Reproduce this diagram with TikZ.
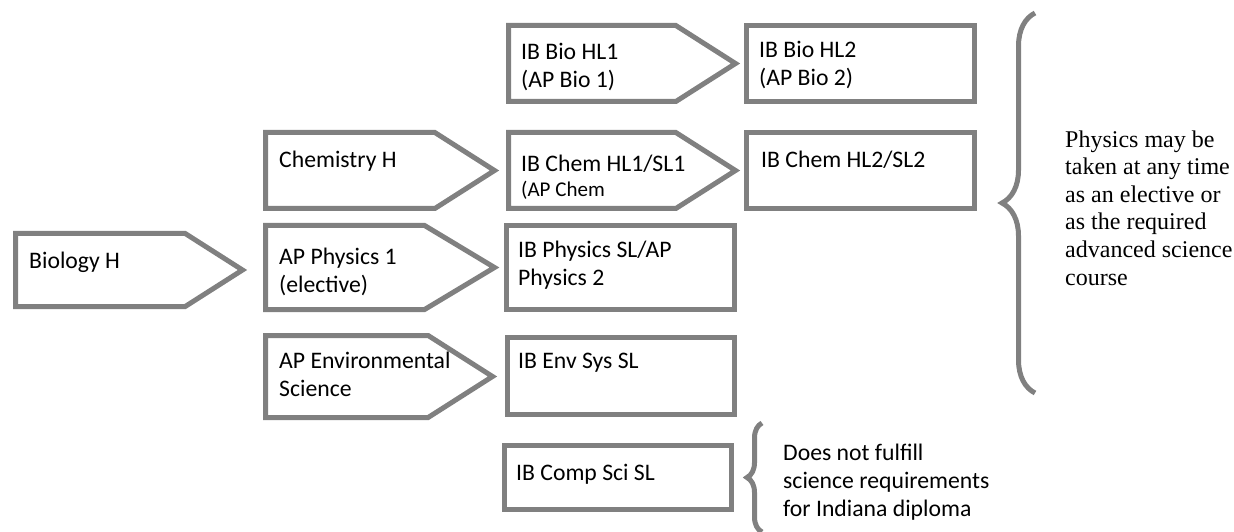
\documentclass[tikz,border=0pt]{standalone}
\usepackage{fontspec}
\setmainfont{Carlito}
\newfontfamily\notefont{Liberation Serif}
\usetikzlibrary{shapes,decorations.pathreplacing}

\tikzset{
  course/.style={signal,signal to=east,signal pointer angle=65,draw=gray,line width=5pt,anchor=west,inner sep=0pt},
  ibbox/.style={rectangle,draw=gray,line width=5pt,anchor=north west,inner sep=0pt},
  txt/.style={anchor=base west,align=left,inner sep=0pt,font=\fontsize{23.7}{28}\selectfont},
  note/.style={anchor=base west,align=left,inner sep=0pt,font=\notefont\fontsize{24}{27.6}\selectfont},
  curly/.style={draw=gray,line width=5pt,decorate,decoration={brace,amplitude=33pt}}
}

\begin{document}
\begin{tikzpicture}[x=1pt,y=1pt]
  \useasboundingbox (0,0) rectangle (1234,531);
  % first year
  \node[course,minimum width=227pt,minimum height=73pt] (bio) at (13,261) {};
  % second year
  \node[course,minimum width=229pt,minimum height=76pt] (chemh) at (263,360.5) {};
  \node[course,minimum width=229pt,minimum height=84pt,signal pointer angle=62] (physone) at (263,263.5) {};
  \node[course,minimum width=227pt,minimum height=82pt] (envsci) at (263,154.5) {};
  % third year
  \node[course,minimum width=227pt,minimum height=76pt] (biohlone) at (506,467.5) {};
  \node[course,minimum width=227pt,minimum height=76pt] (chemhlone) at (506,360.5) {};
  \node[ibbox,minimum width=228pt,minimum height=84pt] (physsl) at (504,308) {};
  \node[ibbox,minimum width=227pt,minimum height=77pt] (envsys) at (505,196) {};
  \node[ibbox,minimum width=227pt,minimum height=64pt] (compsci) at (502,88) {};
  % fourth year
  \node[ibbox,minimum width=228pt,minimum height=76pt] (biohltwo) at (744,508) {};
  \node[ibbox,minimum width=228pt,minimum height=76pt] (chemhltwo) at (744,401) {};

  % texts (base = last line)
  \node[txt] (bio-t) at (29,262) {Biology H};
  \node[txt] (chemh-t) at (279,363) {Chemistry H};
  \node[txt] (physone-t) at (279,239) {AP Physics 1\\(elective)};
  \node[txt] (envsci-t) at (279,135) {AP Environmental\\Science};
  \node[txt] (biohlone-t) at (521,443) {IB Bio HL1\\(AP Bio 1)};
  \node[txt] (chemhlone-t) at (521,359) {IB Chem HL1/SL1};
  \node[txt,font=\fontsize{21}{24}\selectfont] (apchem-t) at (521,334) {(AP Chem};
  \node[txt] (physsl-t) at (518,246) {IB Physics SL/AP\\Physics 2};
  \node[txt] (envsys-t) at (518,163) {IB Env Sys SL};
  \node[txt] (compsci-t) at (516,51) {IB Comp Sci SL};
  \node[txt] (biohltwo-t) at (759,445) {IB Bio HL2\\(AP Bio 2)};
  \node[txt] (chemhltwo-t) at (761,363) {IB Chem HL2/SL2};

  % braces and notes
  \draw[curly] (1035,138) -- (1035,518);
  \node[note] (physnote) at (1065,246) {Physics may be\\taken at any time\\as an elective or\\as the required\\advanced science\\course};
  \draw[curly,decoration={amplitude=15pt}] (762,-1) -- (762,108);
  \node[txt] (csnote) at (783,15) {Does not fulfill\\science requirements\\for Indiana diploma};
\end{tikzpicture}
\end{document}
